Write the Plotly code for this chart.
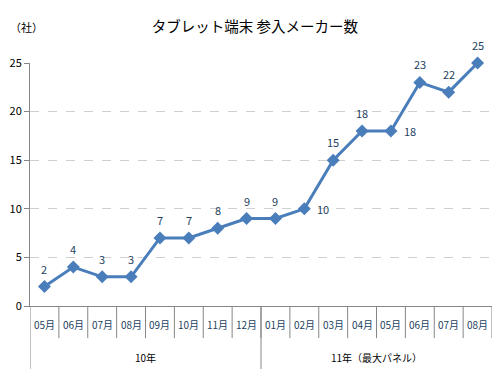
import plotly.graph_objects as go

years = ["10年"] * 8 + ["11年（最大パネル）"] * 8
months = ["05月", "06月", "07月", "08月", "09月", "10月", "11月", "12月",
          "01月", "02月", "03月", "04月", "05月", "06月", "07月", "08月"]
values = [2, 4, 3, 3, 7, 7, 8, 9, 9, 10, 15, 18, 18, 23, 22, 25]
label_side = ["top"] * 9 + ["right"] + ["top"] * 2 + ["right"] + ["top"] * 3

JP = "Noto Sans CJK JP"
AXIS = "#868686"
LABEL = "#243F60"

idx = list(range(len(months)))

fig = go.Figure()
fig.add_trace(go.Scatter(
    x=idx, y=values,
    mode="lines+markers",
    line=dict(color="#4A7EBB", width=3),
    marker=dict(symbol="diamond", size=10, color="#4A7EBB"),
    cliponaxis=False,
    hoverinfo="skip",
))

# data labels
for i, v in enumerate(values):
    if label_side[i] == "top":
        fig.add_annotation(x=i, y=v, text=str(v), showarrow=False,
                           yshift=18, xanchor="center", yanchor="middle",
                           font=dict(family=JP, size=11, color=LABEL))
    else:
        fig.add_annotation(x=i, y=v, text=str(v), showarrow=False,
                           xshift=11, xanchor="left", yanchor="middle",
                           font=dict(family=JP, size=11, color=LABEL))

# category boxes (month level)
MONTH_BOTTOM = -0.132
YEAR_BOTTOM = -0.259
n = len(months)
for b in range(1, n + 1):
    fig.add_shape(type="line", xref="x", yref="paper",
                  x0=b - 0.5, x1=b - 0.5, y0=0, y1=MONTH_BOTTOM,
                  line=dict(color=AXIS, width=1))
# group dividers (year level)
group_starts = [i for i in range(n) if i == 0 or years[i] != years[i - 1]]
for s in group_starts:
    fig.add_shape(type="line", xref="x", yref="paper",
                  x0=s - 0.5, x1=s - 0.5, y0=0, y1=YEAR_BOTTOM,
                  line=dict(color=AXIS, width=1))
# month labels
for i, m in enumerate(months):
    fig.add_annotation(x=i, y=-0.078, xref="x", yref="paper", text=m,
                       showarrow=False, xanchor="center", yanchor="middle",
                       font=dict(family=JP, size=10, color=LABEL))
# year labels
for k, s in enumerate(group_starts):
    e = group_starts[k + 1] - 1 if k + 1 < len(group_starts) else n - 1
    fig.add_annotation(x=(s + e) / 2, y=-0.21, xref="x", yref="paper",
                       text=years[s], showarrow=False, xanchor="center",
                       yanchor="middle",
                       font=dict(family=JP, size=10, color="black"))

# page body has an 8px margin: figure sized/offset so it lands at the reference pixels
fig.update_layout(
    width=485, height=364,
    margin=dict(l=22, r=1, t=55, b=66, autoexpand=False),
    paper_bgcolor="white", plot_bgcolor="white",
    showlegend=False,
    title=dict(text="タブレット端末 参入メーカー数", x=0.509, xanchor="center",
               xref="container", yref="container",
               y=0.948, yanchor="middle",
               font=dict(family=JP, size=14.5, color="black")),
    font=dict(family=JP, size=10, color="black"),
)
fig.update_yaxes(
    range=[0, 25], dtick=5, automargin=False,
    showgrid=True, gridcolor="#D0D0D0", griddash="dash", gridwidth=1,
    showline=True, linecolor=AXIS, linewidth=1,
    ticks="outside", ticklen=5, tickcolor=AXIS,
    tickfont=dict(family=JP, size=11, color="black"),
    zeroline=False,
)
fig.update_xaxes(
    range=[-0.5, n - 0.5], automargin=False,
    showline=True, linecolor=AXIS, linewidth=1,
    showticklabels=False, ticks="", showgrid=False, zeroline=False,
)
fig.add_annotation(text="（社）", xref="paper", yref="paper", x=-0.0476, y=1.148,
                   xanchor="left", yanchor="middle", showarrow=False,
                   font=dict(family=JP, size=11, color="black"))

fig.write_html("out.html")
